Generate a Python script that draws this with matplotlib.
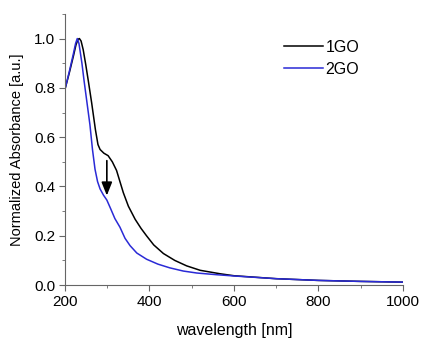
import matplotlib
matplotlib.use("Agg")
import matplotlib.pyplot as plt
from matplotlib.ticker import MultipleLocator

plt.rcParams["font.family"] = ["Liberation Sans", "DejaVu Sans"]

# wavelength [nm] / normalized absorbance
wl_1go = [200, 210, 220, 226, 231, 234, 238, 243, 249, 255, 263, 272, 278, 283, 292, 302, 312,
          322, 330, 338, 350, 366, 380, 393, 410, 433, 460, 488, 520, 567, 600,
          700, 800, 900, 1000]
abs_1go = [0.795, 0.86, 0.93, 0.975, 0.997, 1.00, 0.99, 0.955, 0.895, 0.83, 0.74, 0.63, 0.57, 0.55,
           0.535, 0.525, 0.50,
           0.465, 0.42, 0.375, 0.32, 0.267, 0.23, 0.20, 0.163, 0.128, 0.10, 0.078, 0.060, 0.046, 0.038,
           0.026, 0.019, 0.015, 0.012]

wl_2go = [200, 210, 220, 225, 229, 233, 240, 245, 252, 259, 265, 271, 277, 283, 291,
          299, 308, 318, 330, 342, 354, 370, 393, 420, 448, 480, 512, 560, 600,
          700, 800, 900, 1000]
abs_2go = [0.795, 0.865, 0.94, 0.98, 1.00, 0.98, 0.90, 0.83, 0.74, 0.65, 0.55, 0.47, 0.42, 0.39, 0.365,
           0.345, 0.31, 0.27, 0.235, 0.19, 0.16, 0.13, 0.105, 0.085, 0.07, 0.057, 0.049, 0.042, 0.037,
           0.026, 0.019, 0.015, 0.012]

fig = plt.figure(figsize=(4.25, 3.39), dpi=100)
ax = fig.add_axes([0.153, 0.159, 0.795, 0.800])

ax.plot(wl_1go, abs_1go, color="black", linewidth=1.1, label="1GO")
ax.plot(wl_2go, abs_2go, color="#2a2ad6", linewidth=1.1, label="2GO")

ax.annotate("", xy=(299, 0.352), xytext=(299, 0.516),
            arrowprops=dict(arrowstyle="-|>,head_width=0.32,head_length=0.8",
                            color="black", lw=1.2))

ax.set_xlim(200, 1000)
ax.set_ylim(0, 1.1)
ax.set_xticks([200, 400, 600, 800, 1000])
ax.set_yticks([0.0, 0.2, 0.4, 0.6, 0.8, 1.0])
ax.xaxis.set_minor_locator(MultipleLocator(100))
ax.yaxis.set_minor_locator(MultipleLocator(0.1))
ax.tick_params(which="both", direction="out", labelsize=11, color="#666666", pad=2.5)
ax.tick_params(which="major", length=4.5)
ax.tick_params(which="minor", length=2.5)
for side in ("top", "right"):
    ax.spines[side].set_visible(False)
for side in ("left", "bottom"):
    ax.spines[side].set_color("#666666")

ax.set_xlabel("wavelength [nm]", fontsize=11.5, labelpad=10)
ax.set_ylabel("Normalized Absorbance [a.u.]", fontsize=10.5, labelpad=7)

ax.legend(loc="upper left", bbox_to_anchor=(284 / 425, 1 - 40 / 339),
          bbox_transform=fig.transFigure, frameon=False, borderpad=0, borderaxespad=0,
          fontsize=11.5, handlelength=2.45, handletextpad=0.15, labelspacing=0.42)

fig.savefig("out.png", dpi=100)
